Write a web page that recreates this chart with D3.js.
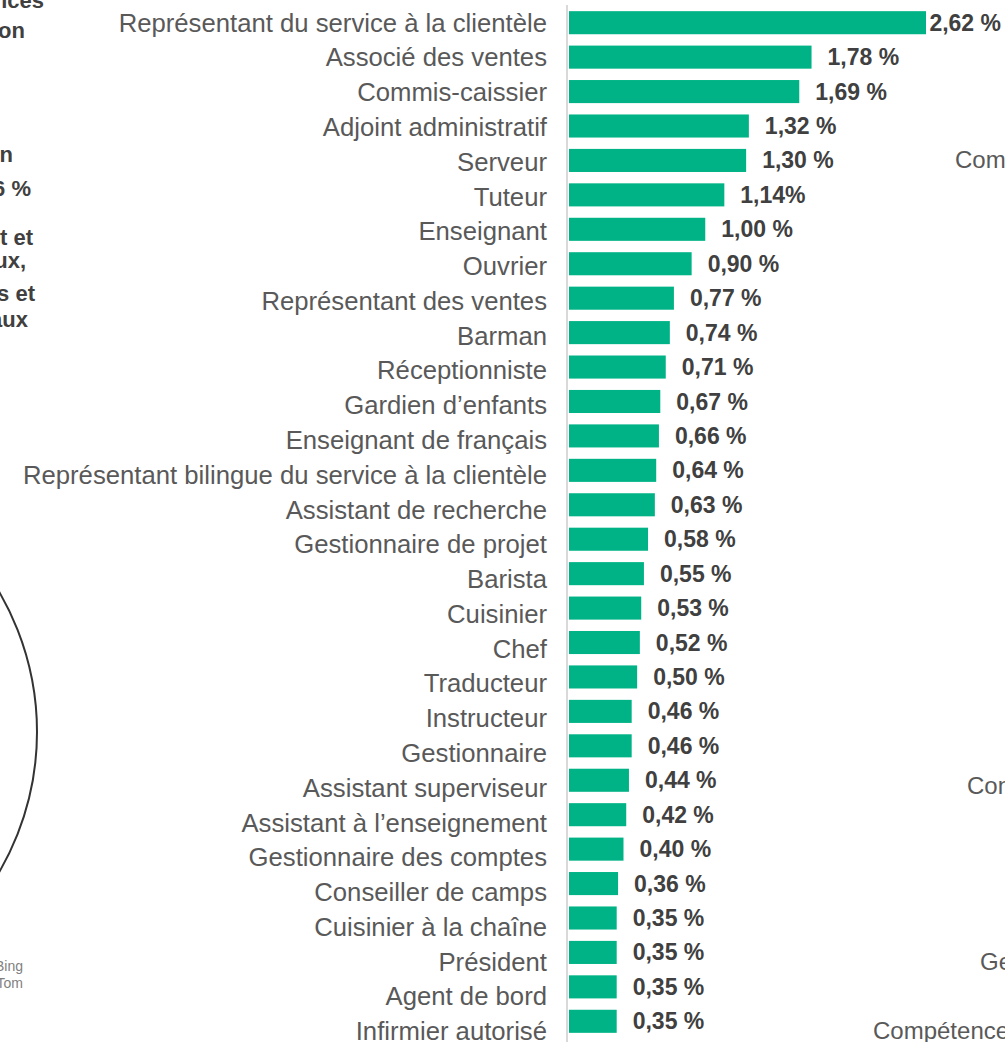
<!DOCTYPE html>
<html>
<head>
<meta charset="utf-8">
<script src="https://cdn.jsdelivr.net/npm/d3@7"></script>
<style>
  body { margin: 0; background: #fff; }
  svg { display: block; font-family: "Liberation Sans", Arial, sans-serif; }
</style>
</head>
<body>
<div id="viz"></div>
<script>
const jobs = [
  'Représentant du service à la clientèle', 'Associé des ventes', 'Commis-caissier',
  'Adjoint administratif', 'Serveur', 'Tuteur', 'Enseignant', 'Ouvrier',
  'Représentant des ventes', 'Barman', 'Réceptionniste', 'Gardien d’enfants',
  'Enseignant de français', 'Représentant bilingue du service à la clientèle',
  'Assistant de recherche', 'Gestionnaire de projet', 'Barista', 'Cuisinier', 'Chef',
  'Traducteur', 'Instructeur', 'Gestionnaire', 'Assistant superviseur',
  'Assistant à l’enseignement', 'Gestionnaire des comptes', 'Conseiller de camps',
  'Cuisinier à la chaîne', 'Président', 'Agent de bord', 'Infirmier autorisé'
];
const shares = [2.62, 1.78, 1.69, 1.32, 1.30, 1.14, 1.00, 0.90, 0.77, 0.74, 0.71, 0.67,
  0.66, 0.64, 0.63, 0.58, 0.55, 0.53, 0.52, 0.50, 0.46, 0.46, 0.44, 0.42, 0.40,
  0.36, 0.35, 0.35, 0.35, 0.35];
// labels as printed (one has no space before %)
const shareLabels = ['2,62 %', '1,78 %', '1,69 %', '1,32 %', '1,30 %', '1,14%', '1,00 %',
  '0,90 %', '0,77 %', '0,74 %', '0,71 %', '0,67 %', '0,66 %', '0,64 %', '0,63 %',
  '0,58 %', '0,55 %', '0,53 %', '0,52 %', '0,50 %', '0,46 %', '0,46 %', '0,44 %',
  '0,42 %', '0,40 %', '0,36 %', '0,35 %', '0,35 %', '0,35 %', '0,35 %'];

// cut-off text from neighbouring panels
const leftNotes = ['services', 'de formation', 'Professions en', 'demande : 26 %',
  'Transport et', 'services sociaux,', 'éducatifs et', 'gouvernementaux'];
const rightNotes = ['Commerce', 'Conseil', 'Gestion', 'Compétences'];

let width = 1005;
let height = 1042;

const svg = d3.select('#viz').append('svg')
  .attr('width', width)
  .attr('height', height);

let x = d3.scaleLinear()
  .domain([0, 2.62])
  .range([569, 926]);

let y = d3.scaleBand()
  .domain(jobs)
  .range([6, 1038])
  .paddingInner(0.33)
  .paddingOuter(0.15);

// vertical axis line
svg.append('line')
  .attr('x1', 567).attr('x2', 567)
  .attr('y1', 5).attr('y2', height)
  .attr('stroke', '#d9d9d9')
  .attr('stroke-width', 2);

svg.append('g')
  .selectAll('rect')
  .data(jobs)
  .join('rect')
  .attr('x', x(0))
  .attr('y', d => y(d))
  .attr('width', (d, i) => x(shares[i]) - x(0))
  .attr('height', y.bandwidth())
  .attr('fill', '#00B386');

svg.append('g')
  .selectAll('text')
  .data(jobs)
  .join('text')
  .attr('x', 547)
  .attr('y', (d, i) => y(d) + y.bandwidth() / 2 + i * 0.34)
  .attr('dy', '0.35em')
  .attr('text-anchor', 'end')
  .attr('fill', '#595959')
  .style('font-size', '25.7px')
  .text(d => d);

const values = svg.append('g')
  .selectAll('text')
  .data(jobs)
  .join('text')
  .attr('x', (d, i) => x(shares[i]) + 16)
  .attr('y', (d, i) => y(d) + y.bandwidth() / 2)
  .attr('dy', '0.35em')
  .attr('fill', '#404040')
  .style('font-size', '23px')
  .style('font-weight', 'bold')
  .text((d, i) => shareLabels[i]);

// keep the widest label inside the frame
values.each(function () {
  const t = d3.select(this);
  const w = this.getComputedTextLength();
  if (+t.attr('x') + w > width - 4) t.attr('x', width - 4 - w);
});

// left panel remnants
svg.append('g')
  .selectAll('text')
  .data(leftNotes)
  .join('text')
  .attr('x', (d, i) => [44, 25, 13, 31, 33, 26, 35, 28][i])
  .attr('y', (d, i) => [8, 38, 162, 196, 245, 268, 301, 327][i])
  .attr('text-anchor', 'end')
  .attr('fill', '#404040')
  .style('font-size', '22px')
  .style('font-weight', 'bold')
  .text(d => d);

svg.append('circle')
  .attr('cx', -241)
  .attr('cy', 732)
  .attr('r', 278)
  .attr('fill', 'none')
  .attr('stroke', '#333')
  .attr('stroke-width', 2);

svg.append('g')
  .selectAll('text')
  .data(['Powered by Bing', '© GeoNames, TomTom'])
  .join('text')
  .attr('x', 23)
  .attr('y', (d, i) => 971 + i * 17)
  .attr('text-anchor', 'end')
  .attr('fill', '#7f7f7f')
  .style('font-size', '14px')
  .text(d => d);

// right panel remnants
svg.append('g')
  .selectAll('text')
  .data(rightNotes)
  .join('text')
  .attr('x', (d, i) => [955, 967, 980, 873][i])
  .attr('y', (d, i) => [168, 794, 970, 1039][i])
  .attr('fill', '#595959')
  .style('font-size', '24px')
  .text(d => d);
</script>
</body>
</html>
